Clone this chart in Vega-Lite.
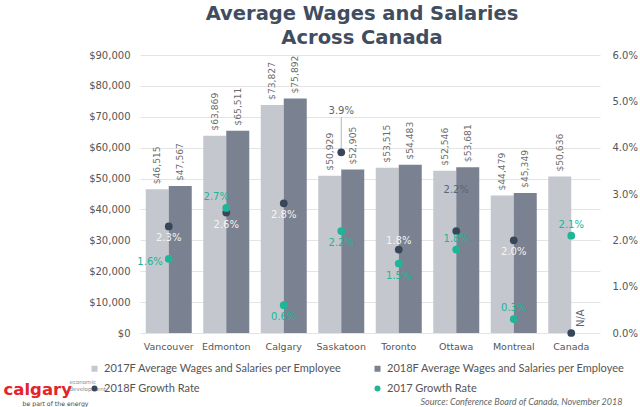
{
  "$schema": "https://vega.github.io/schema/vega-lite/v6.json",
  "width": 460,
  "height": 278,
  "autosize": {"type": "none"},
  "padding": {"left": 140, "top": 55, "right": 40, "bottom": 74},
  "background": "white",
  "title": {
    "text": ["Average Wages and Salaries", "Across Canada"],
    "font": "DejaVu Sans",
    "fontSize": 19.5,
    "fontWeight": "bold",
    "color": "#414d5f",
    "lineHeight": 24,
    "anchor": "middle",
    "dx": -8,
    "offset": 2
  },
  "datasets": {
    "wages": [
      {"city": "Vancouver", "series": "2017F Average Wages and Salaries per Employee", "wage": 46515},
      {"city": "Vancouver", "series": "2018F Average Wages and Salaries per Employee", "wage": 47567},
      {"city": "Edmonton", "series": "2017F Average Wages and Salaries per Employee", "wage": 63869},
      {"city": "Edmonton", "series": "2018F Average Wages and Salaries per Employee", "wage": 65511},
      {"city": "Calgary", "series": "2017F Average Wages and Salaries per Employee", "wage": 73827},
      {"city": "Calgary", "series": "2018F Average Wages and Salaries per Employee", "wage": 75892},
      {"city": "Saskatoon", "series": "2017F Average Wages and Salaries per Employee", "wage": 50929},
      {"city": "Saskatoon", "series": "2018F Average Wages and Salaries per Employee", "wage": 52905},
      {"city": "Toronto", "series": "2017F Average Wages and Salaries per Employee", "wage": 53515},
      {"city": "Toronto", "series": "2018F Average Wages and Salaries per Employee", "wage": 54483},
      {"city": "Ottawa", "series": "2017F Average Wages and Salaries per Employee", "wage": 52546},
      {"city": "Ottawa", "series": "2018F Average Wages and Salaries per Employee", "wage": 53681},
      {"city": "Montreal", "series": "2017F Average Wages and Salaries per Employee", "wage": 44479},
      {"city": "Montreal", "series": "2018F Average Wages and Salaries per Employee", "wage": 45349},
      {"city": "Canada", "series": "2017F Average Wages and Salaries per Employee", "wage": 50636}
    ],
    "growth": [
      {"city": "Vancouver", "series": "2018F Growth Rate", "rate": 0.023},
      {"city": "Vancouver", "series": "2017 Growth Rate", "rate": 0.016},
      {"city": "Edmonton", "series": "2018F Growth Rate", "rate": 0.026},
      {"city": "Edmonton", "series": "2017 Growth Rate", "rate": 0.027},
      {"city": "Calgary", "series": "2018F Growth Rate", "rate": 0.028},
      {"city": "Calgary", "series": "2017 Growth Rate", "rate": 0.006},
      {"city": "Saskatoon", "series": "2018F Growth Rate", "rate": 0.039},
      {"city": "Saskatoon", "series": "2017 Growth Rate", "rate": 0.022},
      {"city": "Toronto", "series": "2018F Growth Rate", "rate": 0.018},
      {"city": "Toronto", "series": "2017 Growth Rate", "rate": 0.015},
      {"city": "Ottawa", "series": "2018F Growth Rate", "rate": 0.022},
      {"city": "Ottawa", "series": "2017 Growth Rate", "rate": 0.018},
      {"city": "Montreal", "series": "2018F Growth Rate", "rate": 0.020},
      {"city": "Montreal", "series": "2017 Growth Rate", "rate": 0.003},
      {"city": "Canada", "series": "2018F Growth Rate", "rate": 0},
      {"city": "Canada", "series": "2017 Growth Rate", "rate": 0.021}
    ]
  },
  "layer": [
    {
      "data": {"name": "wages"},
      "encoding": {
        "x": {
          "field": "city", "type": "nominal",
          "sort": ["Vancouver", "Edmonton", "Calgary", "Saskatoon", "Toronto", "Ottawa", "Montreal", "Canada"],
          "scale": {"domain": ["Vancouver", "Edmonton", "Calgary", "Saskatoon", "Toronto", "Ottawa", "Montreal", "Canada"], "paddingInner": 0.2, "paddingOuter": 0.1},
          "axis": {
            "orient": "bottom", "labelAngle": 0, "ticks": false, "domain": false, "labelPadding": 8,
            "labelFont": "DejaVu Sans", "labelFontSize": 9.5, "labelColor": "#555555",
            "title": "Source: Conference Board of Canada, November 2018",
            "titleFont": "Lato", "titleFontSize": 9, "titleFontStyle": "italic", "titleFontWeight": "normal",
            "titleColor": "#666666", "titleAlign": "right", "titleAnchor": null, "titleX": 482, "titleY": 71, "titleBaseline": "alphabetic"
          }
        },
        "y": {
          "field": "wage", "type": "quantitative",
          "scale": {"domain": [0, 90000]},
          "axis": {
            "values": [0, 10000, 20000, 30000, 40000, 50000, 60000, 70000, 80000, 90000],
            "format": "$,.0f", "ticks": false, "domain": false, "grid": true, "gridColor": "#e4e4e4",
            "labelPadding": 10, "labelFont": "DejaVu Sans", "labelFontSize": 10, "labelColor": "#555555",
            "title": "calgary", "titleAngle": 0, "titleFont": "DejaVu Sans", "titleFontSize": 16.5, "titleFontWeight": "bold",
            "titleColor": "#e3242b", "titleAlign": "left", "titleBaseline": "alphabetic", "titleX": -137, "titleY": 339
          }
        }
      },
      "layer": [
        {
          "mark": {"type": "bar"},
          "encoding": {
            "xOffset": {"field": "series", "type": "nominal", "scale": {"domain": ["2017F Average Wages and Salaries per Employee", "2018F Average Wages and Salaries per Employee"], "paddingInner": 0}},
            "color": {
              "field": "series", "type": "nominal",
              "scale": {
                "domain": ["2017F Average Wages and Salaries per Employee", "2018F Average Wages and Salaries per Employee", "2018F Growth Rate", "2017 Growth Rate"],
                "range": ["#c4c7cd", "#7a8291", "#38465a", "#20b596"]
              },
              "legend": {
                "title": null, "orient": "none", "legendX": -51, "legendY": 308, "columns": 2, "direction": "horizontal",
                "columnPadding": 30, "rowPadding": 8, "symbolSize": 36, "labelFont": "Lato", "labelFontSize": 11, "labelColor": "#555555",
                "labelLimit": 400, "symbolOffset": 0,
                "encode": {"symbols": {"update": {"shape": {"signal": "test(/Growth/, datum.value) ? 'circle' : 'square'"}, "strokeWidth": {"value": 0}}}}
              }
            }
          }
        },
        {
          "mark": {"type": "text", "angle": 270, "align": "left", "baseline": "middle", "dx": 5, "font": "DejaVu Sans", "fontSize": 9.2, "color": "#6a6a6a"},
          "encoding": {
            "xOffset": {"field": "series", "type": "nominal", "scale": {"domain": ["2017F Average Wages and Salaries per Employee", "2018F Average Wages and Salaries per Employee"], "paddingInner": 0}},
            "text": {"field": "wage", "type": "quantitative", "format": "$,.0f"}
          }
        }
      ]
    },
    {
      "data": {"name": "growth"},
      "encoding": {
        "x": {
          "field": "city", "type": "nominal",
          "sort": ["Vancouver", "Edmonton", "Calgary", "Saskatoon", "Toronto", "Ottawa", "Montreal", "Canada"],
          "axis": {
            "orient": "bottom", "labels": false, "ticks": false, "domain": false, "grid": false,
            "title": "be part of the energy", "titleFont": "DejaVu Sans", "titleFontSize": 6.2, "titleFontWeight": "normal",
            "titleColor": "#444444", "titleAlign": "left", "titleAnchor": null, "titleX": -118, "titleY": 72, "titleBaseline": "alphabetic"
          }
        },
        "y": {
          "field": "rate", "type": "quantitative",
          "scale": {"domain": [0, 0.06]},
          "axis": {
            "orient": "right", "values": [0, 0.01, 0.02, 0.03, 0.04, 0.05, 0.06], "format": ".1%",
            "ticks": false, "domain": false, "grid": false, "labelPadding": 12,
            "labelFont": "DejaVu Sans", "labelFontSize": 10, "labelColor": "#555555",
            "title": ["economic", "development"], "titleAngle": 0, "titleFont": "DejaVu Sans", "titleFontSize": 5.5, "titleFontWeight": "normal",
            "titleColor": "#888888", "titleAlign": "left", "titleBaseline": "middle", "titleLineHeight": 7, "titleX": -531, "titleY": 326
          }
        }
      },
      "layer": [
        {
          "transform": [{"filter": "datum.city == 'Saskatoon' && datum.series == '2018F Growth Rate'"}],
          "mark": {"type": "rule", "color": "#b5b5b5", "strokeWidth": 1, "y2Offset": -35},
          "encoding": {"y2": {"field": "rate"}}
        },
        {
          "mark": {"type": "point", "filled": true, "size": 60, "opacity": 1},
          "encoding": {
            "color": {"field": "series", "type": "nominal"}
          }
        },
        {
          "transform": [{"filter": "datum.series == '2018F Growth Rate' && indexof(['Vancouver','Edmonton','Calgary','Montreal'], datum.city) >= 0"}],
          "mark": {"type": "text", "baseline": "middle", "dy": 12, "font": "DejaVu Sans", "fontSize": 10, "color": "#f4f4f4"},
          "encoding": {"text": {"field": "rate", "type": "quantitative", "format": ".1%"}}
        },
        {
          "transform": [{"filter": "datum.series == '2018F Growth Rate' && datum.city == 'Toronto'"}],
          "mark": {"type": "text", "baseline": "middle", "dy": -9, "font": "DejaVu Sans", "fontSize": 10, "color": "#f4f4f4"},
          "encoding": {"text": {"field": "rate", "type": "quantitative", "format": ".1%"}}
        },
        {
          "transform": [{"filter": "datum.series == '2018F Growth Rate' && indexof(['Saskatoon','Ottawa'], datum.city) >= 0"}],
          "mark": {"type": "text", "baseline": "middle", "dy": -41, "font": "DejaVu Sans", "fontSize": 10, "color": "#5c6470"},
          "encoding": {"text": {"field": "rate", "type": "quantitative", "format": ".1%"}}
        },
        {
          "transform": [{"filter": "datum.series == '2018F Growth Rate' && datum.city == 'Canada'"}],
          "mark": {"type": "text", "angle": 270, "align": "left", "baseline": "middle", "dx": 6, "dy": 10, "font": "DejaVu Sans", "fontSize": 10, "color": "#5c6470"},
          "encoding": {"text": {"value": "N/A"}}
        },
        {
          "transform": [{"filter": "datum.series == '2017 Growth Rate' && indexof(['Calgary','Saskatoon','Toronto'], datum.city) >= 0"}],
          "mark": {"type": "text", "baseline": "middle", "dy": 12, "font": "DejaVu Sans", "fontSize": 10, "color": "#20b596"},
          "encoding": {"text": {"field": "rate", "type": "quantitative", "format": ".1%"}}
        },
        {
          "transform": [{"filter": "datum.series == '2017 Growth Rate' && indexof(['Ottawa','Montreal','Canada'], datum.city) >= 0"}],
          "mark": {"type": "text", "baseline": "middle", "dy": -11, "font": "DejaVu Sans", "fontSize": 10, "color": "#20b596"},
          "encoding": {"text": {"field": "rate", "type": "quantitative", "format": ".1%"}}
        },
        {
          "transform": [{"filter": "datum.series == '2017 Growth Rate' && datum.city == 'Vancouver'"}],
          "mark": {"type": "text", "align": "right", "baseline": "middle", "dx": -6, "dy": 3, "font": "DejaVu Sans", "fontSize": 10, "color": "#20b596"},
          "encoding": {"text": {"field": "rate", "type": "quantitative", "format": ".1%"}}
        },
        {
          "transform": [{"filter": "datum.series == '2017 Growth Rate' && datum.city == 'Edmonton'"}],
          "mark": {"type": "text", "baseline": "middle", "dx": -10, "dy": -11, "font": "DejaVu Sans", "fontSize": 10, "color": "#20b596"},
          "encoding": {"text": {"field": "rate", "type": "quantitative", "format": ".1%"}}
        }
      ]
    }
  ],
  "resolve": {"scale": {"y": "independent"}, "axis": {"x": "independent"}},
  "config": {"view": {"stroke": null}}
}
